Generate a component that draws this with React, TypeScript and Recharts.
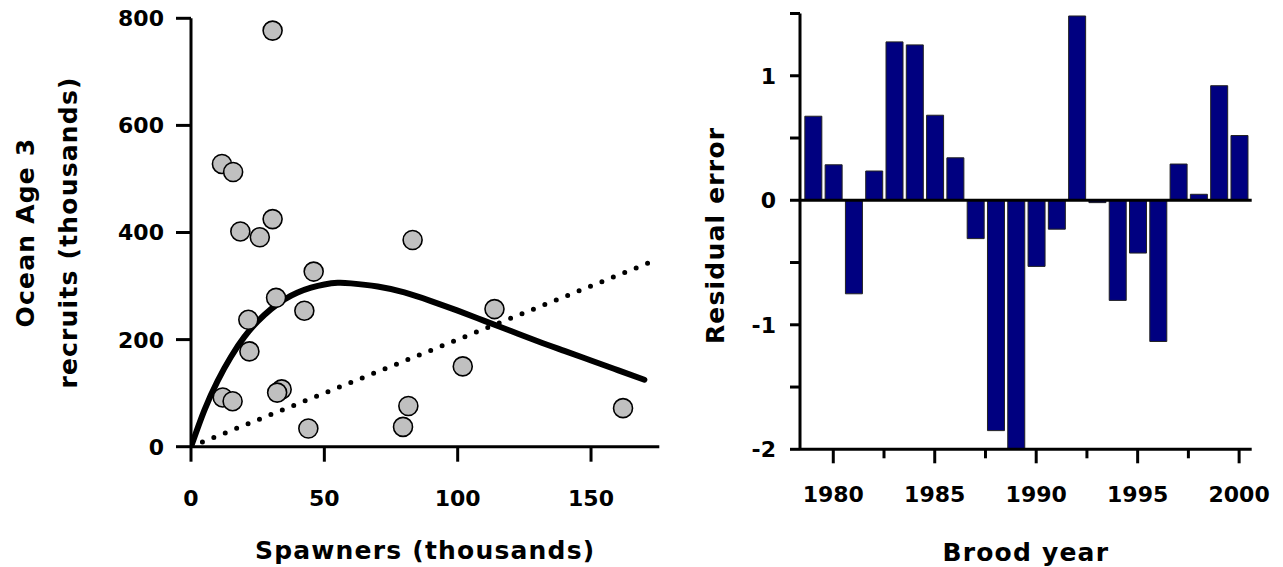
import React from 'react';
import {
  ComposedChart, Scatter, Line, XAxis, YAxis, BarChart, Bar, ReferenceLine,
} from 'recharts';

// ---------- Left panel: stock–recruitment ----------
const spawners = [30.6, 11.6, 15.8, 30.6, 18.5, 25.8, 83.1, 46, 31.9, 42.5, 113.8, 21.5, 21.9, 101.9, 11.9, 15.6, 34, 32.3, 81.5, 79.5, 44, 162];
const recruits = [777, 528, 513, 425, 402, 391, 386, 327, 278, 254, 257, 237, 178, 150, 92, 85, 107, 101, 76, 37, 34, 72];

const curveSpawners = [0, 5, 10, 15, 20, 25, 30, 35, 40, 45, 50, 55, 60, 70, 80, 90, 100, 110, 120, 130, 140, 150, 160, 170];
const curveRecruits = [0, 68, 123, 168, 205, 234, 257, 275, 288, 297, 303, 306, 305, 299, 288, 272, 254, 235, 216, 197, 179, 161, 143, 125];

const replacementSpawners = [0, 175];
const replacementRecruits = [0, 350];

const xTicksLeft = [0, 50, 100, 150];
const yTicksLeft = [0, 200, 400, 600, 800];

// ---------- Right panel: residuals ----------
const broodYears = [1979, 1980, 1981, 1982, 1983, 1984, 1985, 1986, 1987, 1988, 1989, 1990, 1991, 1992, 1993, 1994, 1995, 1996, 1997, 1998, 1999, 2000];
const residuals = [0.675, 0.285, -0.751, 0.235, 1.272, 1.248, 0.683, 0.341, -0.308, -1.85, -2.0, -0.531, -0.232, 1.48, -0.019, -0.804, -0.424, -1.134, 0.291, 0.048, 0.92, 0.52];

const xTicksRight = [1980, 1982.5, 1985, 1987.5, 1990, 1992.5, 1995, 1997.5, 2000];
const yTicksRight = [-2, -1.5, -1, -0.5, 0, 0.5, 1, 1.5];

const scatterData = spawners.map((s, i) => ({ x: s, y: recruits[i] }));
const curveData = curveSpawners.map((s, i) => ({ x: s, y: curveRecruits[i] }));
const replacementData = replacementSpawners.map((s, i) => ({ x: s, y: replacementRecruits[i] }));
const barData = broodYears.map((yr, i) => ({ year: yr, res: residuals[i] }));

const FONT = "'Comic Sans MS', 'DejaVu Sans', sans-serif";
const textStyle = { fontFamily: FONT, fontWeight: 700, fill: '#000' } as const;
const titleStyle = { ...textStyle, fontSize: 25, letterSpacing: 1.2 } as const;

const LeftXTick = (p: any) => (
  <g>
    <line x1={p.x} x2={p.x} y1={p.y} y2={p.y + 15} stroke="#000" strokeWidth={3} />
    <text x={p.x} y={p.y + 51} dy="0.36em" textAnchor="middle" fontSize={22} {...textStyle}>{p.payload.value}</text>
  </g>
);
const LeftYTick = (p: any) => (
  <g>
    <line x1={p.x - 15} x2={p.x} y1={p.y} y2={p.y} stroke="#000" strokeWidth={3} />
    <text x={p.x - 27} y={p.y} dy="0.36em" textAnchor="end" fontSize={22} {...textStyle}>{p.payload.value}</text>
  </g>
);
const RightXTick = (p: any) => {
  const major = p.payload.value % 5 === 0;
  return (
    <g>
      <line x1={p.x} x2={p.x} y1={p.y} y2={p.y + (major ? 14 : 9)} stroke="#000" strokeWidth={3} />
      {major && <text x={p.x} y={p.y + 45} dy="0.36em" textAnchor="middle" fontSize={22} {...textStyle}>{p.payload.value}</text>}
    </g>
  );
};
const RightYTick = (p: any) => {
  const major = Number.isInteger(p.payload.value);
  return (
    <g>
      <line x1={p.x - 10} x2={p.x} y1={p.y} y2={p.y} stroke="#000" strokeWidth={3} />
      {major && <text x={p.x - 24} y={p.y} dy="0.36em" textAnchor="end" fontSize={22} {...textStyle}>{p.payload.value}</text>}
    </g>
  );
};

const Dot = (p: any) => (
  <circle cx={p.cx} cy={p.cy} r={9.5} fill="#c0c0c0" stroke="#000" strokeWidth={1.6} />
);

const xTitle = (text: string, dy: number) => (props: any) => {
  const vb = props.viewBox || {};
  return (
    <text x={vb.x + vb.width / 2} y={vb.y + dy} dy="0.36em" textAnchor="middle" {...titleStyle}>{text}</text>
  );
};

const leftYTitle = (props: any) => {
  const vb = props.viewBox || {};
  const cy = vb.y + vb.height / 2;
  return (
    <g>
      <text transform={`translate(25, ${cy}) rotate(-90)`} dy="0.36em" textAnchor="middle" {...titleStyle}>Ocean Age 3</text>
      <text transform={`translate(68, ${cy}) rotate(-90)`} dy="0.36em" textAnchor="middle" {...titleStyle}>recruits (thousands)</text>
    </g>
  );
};

const rightYTitle = (props: any) => {
  const vb = props.viewBox || {};
  const cy = vb.y + vb.height / 2 + 4;
  return (
    <text transform={`translate(15, ${cy}) rotate(-90)`} dy="0.36em" textAnchor="middle" {...titleStyle}>Residual error</text>
  );
};

export default function App() {
  return (
    <div style={{ position: 'absolute', left: 0, top: 0, width: 1283, height: 567, background: '#fff' }}>
      <div style={{ position: 'absolute', left: 0, top: 0 }}>
        <ComposedChart width={700} height={567} margin={{ top: 18.3, left: 91, right: 40.7, bottom: 20.3 }}>
          <XAxis
            type="number" dataKey="x" domain={[0, 175.6]} ticks={xTicksLeft} interval={0}
            allowDataOverflow height={100} tickSize={0} tickMargin={0} tickLine={false}
            axisLine={{ stroke: '#000', strokeWidth: 3 }} tick={<LeftXTick />}
            label={xTitle('Spawners (thousands)', 103)}
          />
          <YAxis
            type="number" dataKey="y" domain={[0, 800]} ticks={yTicksLeft} interval={0}
            allowDataOverflow width={100} tickSize={0} tickMargin={0} tickLine={false}
            axisLine={{ stroke: '#000', strokeWidth: 3 }} tick={<LeftYTick />}
            label={leftYTitle}
          />
          <Scatter data={scatterData} shape={<Dot />} isAnimationActive={false} />
          <Line data={replacementData} dataKey="y" type="linear" stroke="#000" strokeWidth={5}
            strokeDasharray="0 12.3" strokeLinecap="round" dot={false} activeDot={false} isAnimationActive={false} />
          <Line data={curveData} dataKey="y" type="natural" stroke="#000" strokeWidth={6}
            strokeLinecap="round" dot={false} activeDot={false} isAnimationActive={false} />
        </ComposedChart>
      </div>
      <div style={{ position: 'absolute', left: 700, top: 0 }}>
        <BarChart width={583} height={567} data={barData} margin={{ top: 13.5, left: 0, right: 31.3, bottom: 17.7 }}>
          <XAxis
            type="number" dataKey="year" domain={[1978.36, 2000.62]} ticks={xTicksRight} interval={0}
            allowDataOverflow height={100} tickSize={0} tickMargin={0} tickLine={false}
            axisLine={{ stroke: '#000', strokeWidth: 3 }} tick={<RightXTick />}
            label={xTitle('Brood year', 103)}
          />
          <YAxis
            type="number" domain={[-2, 1.5]} ticks={yTicksRight} interval={0}
            allowDataOverflow width={100} tickSize={0} tickMargin={0} tickLine={false}
            axisLine={{ stroke: '#000', strokeWidth: 3 }} tick={<RightYTick />}
            label={rightYTitle}
          />
          <Bar dataKey="res" barSize={17} fill="#000080" stroke="#222" strokeWidth={1} isAnimationActive={false} />
          <ReferenceLine y={0} stroke="#000" strokeWidth={3} />
        </BarChart>
      </div>
    </div>
  );
}
